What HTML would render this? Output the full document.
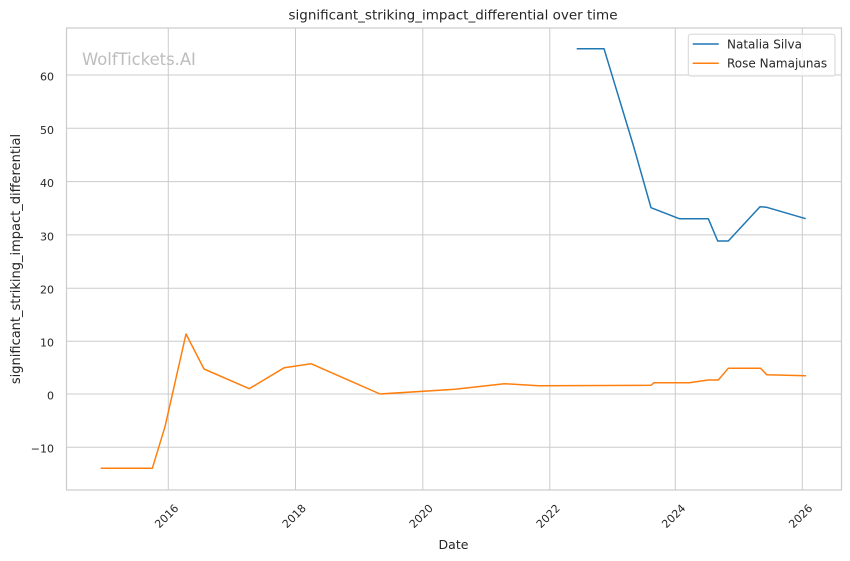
<!DOCTYPE html>
<html>
<head>
<meta charset="utf-8">
<style>
  html, body { margin: 0; padding: 0; background: #ffffff; }
  svg { display: block; }
  text { font-family: "DejaVu Sans", "Liberation Sans", sans-serif; fill: #262626; }
</style>
</head>
<body>
<svg width="850" height="561" viewBox="0 0 850 561" xmlns="http://www.w3.org/2000/svg">
  <rect x="0" y="0" width="850" height="561" fill="#ffffff"/>
  <!-- grid -->
  <g stroke="#cccccc" stroke-width="1" fill="none">
    <line x1="66.5" y1="75" x2="841.5" y2="75"/>
    <line x1="66.5" y1="128.3" x2="841.5" y2="128.3"/>
    <line x1="66.5" y1="181.6" x2="841.5" y2="181.6"/>
    <line x1="66.5" y1="234.9" x2="841.5" y2="234.9"/>
    <line x1="66.5" y1="288.2" x2="841.5" y2="288.2"/>
    <line x1="66.5" y1="341.2" x2="841.5" y2="341.2"/>
    <line x1="66.5" y1="394" x2="841.5" y2="394"/>
    <line x1="66.5" y1="447.2" x2="841.5" y2="447.2"/>
    <line x1="168.3" y1="28" x2="168.3" y2="490"/>
    <line x1="295.5" y1="28" x2="295.5" y2="490"/>
    <line x1="422.8" y1="28" x2="422.8" y2="490"/>
    <line x1="549.8" y1="28" x2="549.8" y2="490"/>
    <line x1="675.3" y1="28" x2="675.3" y2="490"/>
    <line x1="802.3" y1="28" x2="802.3" y2="490"/>
  </g>
  <!-- frame -->
  <rect x="66.5" y="28" width="775" height="462" fill="none" stroke="#cccccc" stroke-width="1.2"/>

  <!-- watermark -->
  <text x="82" y="65" font-size="16.4" style="fill:#bdbdbd">WolfTickets.AI</text>

  <!-- series -->
  <polyline fill="none" stroke="#1f77b4" stroke-width="1.5" stroke-linejoin="round"
    points="576.7,48.7 604,48.7 633.5,146 651,207.7 679.3,218.7 708.3,218.7 717.7,241 728.3,241 760,206.7 766.7,207.3 805.7,218.7"/>
  <polyline fill="none" stroke="#ff7f0e" stroke-width="1.5" stroke-linejoin="round"
    points="100.7,468.3 152.3,468.3 165,426.7 186,334 204,369 249.3,388.7 284.3,367.7 311,363.7 380,394 455,389.3 504.3,383.7 538.3,385.7 651,385.3 654,382.7 689.3,382.7 708.3,380 718.3,380 728.3,368.3 760.7,368.3 766.7,374.7 806,375.7"/>

  <!-- y tick labels -->
  <g font-size="11" text-anchor="end">
    <text x="54" y="80.5">60</text>
    <text x="54" y="133.8">50</text>
    <text x="54" y="187.1">40</text>
    <text x="54" y="240.4">30</text>
    <text x="54" y="293.7">20</text>
    <text x="54" y="346.7">10</text>
    <text x="54" y="399.5">0</text>
    <text x="54" y="452.7">−10</text>
  </g>

  <!-- x tick labels -->
  <g font-size="11" text-anchor="middle">
    <text transform="translate(166.5,516) rotate(-45)" dy="4">2016</text>
    <text transform="translate(294,516) rotate(-45)" dy="4">2018</text>
    <text transform="translate(421,516) rotate(-45)" dy="4">2020</text>
    <text transform="translate(548,516) rotate(-45)" dy="4">2022</text>
    <text transform="translate(673.5,516) rotate(-45)" dy="4">2024</text>
    <text transform="translate(800.5,516) rotate(-45)" dy="4">2026</text>
  </g>

  <!-- axis labels -->
  <text x="453.5" y="549" font-size="12.5" text-anchor="middle">Date</text>
  <text transform="translate(20,259) rotate(-90)" font-size="13" text-anchor="middle">significant_striking_impact_differential</text>

  <!-- title -->
  <text x="453" y="19.5" font-size="13.5" text-anchor="middle">significant_striking_impact_differential over time</text>

  <!-- legend -->
  <rect x="688.3" y="34.3" width="146.7" height="41.7" rx="2.5" ry="2.5" fill="#ffffff" fill-opacity="0.8" stroke="#d6d6d6" stroke-width="1"/>
  <line x1="692.7" y1="44" x2="718.7" y2="44" stroke="#1f77b4" stroke-width="1.5"/>
  <line x1="692.7" y1="63.3" x2="718.7" y2="63.3" stroke="#ff7f0e" stroke-width="1.5"/>
  <text x="727" y="48.3" font-size="12">Natalia Silva</text>
  <text x="727" y="67.6" font-size="12">Rose Namajunas</text>
</svg>
</body>
</html>
